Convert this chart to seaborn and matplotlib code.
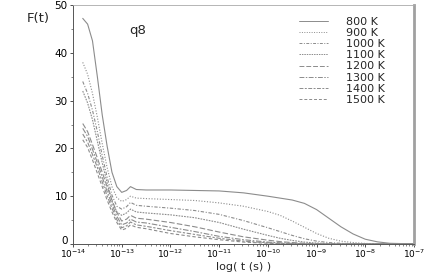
import numpy as np
import pandas as pd
import matplotlib
matplotlib.use("Agg")
import matplotlib.pyplot as plt
import matplotlib.transforms as mtransforms
import seaborn as sns
from matplotlib.ticker import LogLocator, NullFormatter, MultipleLocator

# ---- data ----
temperatures = ["800 K", "900 K", "1000 K", "1100 K", "1200 K", "1300 K", "1400 K", "1500 K"]
log_t = [-13.8, -13.7, -13.6, -13.5, -13.4, -13.3, -13.2, -13.1, -13.0,
         -12.9, -12.82, -12.7, -12.5, -12.0, -11.5, -11.0, -10.5, -10.0,
         -9.75, -9.5, -9.25, -9.0, -8.75, -8.5, -8.25, -8.0, -7.75, -7.5, -7.0]

F_800 = [47.2, 46.0, 42.5, 35.0, 27.0, 20.5, 15.0, 12.0, 10.8,
         11.2, 12.0, 11.4, 11.3, 11.3, 11.2, 11.1, 10.7, 10.0,
         9.6, 9.2, 8.5, 7.2, 5.4, 3.6, 2.1, 1.0, 0.45, 0.15, 0.02]
F_900 = [38.0, 35.5, 31.5, 26.5, 21.0, 16.0, 12.0, 9.7, 8.9,
         9.3, 10.0, 9.6, 9.5, 9.3, 9.1, 8.6, 7.9, 6.8,
         6.0, 4.8, 3.5, 2.2, 1.2, 0.6, 0.3, 0.12, 0.05, 0.02, 0.0]
F_1000 = [34.0, 31.5, 28.0, 23.5, 18.5, 14.0, 10.2, 7.9, 7.3,
          7.8, 8.7, 8.1, 7.9, 7.5, 7.0, 6.2, 4.9, 3.4,
          2.6, 1.8, 1.1, 0.6, 0.3, 0.15, 0.06, 0.02, 0.0, 0.0, 0.0]
F_1100 = [32.0, 29.5, 26.0, 21.5, 17.0, 12.8, 9.0, 6.7, 6.0,
          6.5, 7.3, 6.7, 6.5, 6.1, 5.5, 4.5, 3.1, 1.8,
          1.2, 0.75, 0.4, 0.2, 0.08, 0.03, 0.0, 0.0, 0.0, 0.0, 0.0]
F_1200 = [25.2, 23.5, 20.8, 18.0, 15.0, 12.0, 9.2, 6.6, 4.8,
          5.2, 6.0, 5.4, 5.2, 4.5, 3.6, 2.5, 1.5, 0.8,
          0.5, 0.3, 0.15, 0.05, 0.0, 0.0, 0.0, 0.0, 0.0, 0.0, 0.0]
F_1300 = [24.2, 22.5, 19.8, 17.0, 14.0, 11.0, 8.3, 5.8, 4.0,
          4.4, 5.2, 4.6, 4.4, 3.5, 2.6, 1.6, 0.9, 0.4,
          0.25, 0.12, 0.05, 0.0, 0.0, 0.0, 0.0, 0.0, 0.0, 0.0, 0.0]
F_1400 = [23.0, 21.3, 18.7, 16.0, 13.0, 10.1, 7.5, 5.1, 3.4,
          3.8, 4.6, 4.0, 3.7, 2.8, 2.0, 1.2, 0.6, 0.25,
          0.12, 0.05, 0.0, 0.0, 0.0, 0.0, 0.0, 0.0, 0.0, 0.0, 0.0]
F_1500 = [21.8, 20.2, 17.6, 14.8, 12.0, 9.2, 6.7, 4.5, 2.9,
          3.3, 4.0, 3.5, 3.2, 2.2, 1.5, 0.9, 0.4, 0.15,
          0.07, 0.02, 0.0, 0.0, 0.0, 0.0, 0.0, 0.0, 0.0, 0.0, 0.0]

series = [F_800, F_900, F_1000, F_1100, F_1200, F_1300, F_1400, F_1500]

x_ticks = [1e-14, 1e-13, 1e-12, 1e-11, 1e-10, 1e-9, 1e-8, 1e-7]
x_tick_labels = [r"$10^{-14}$", r"$10^{-13}$", r"$10^{-12}$", r"$10^{-11}$",
                 r"$10^{-10}$", r"$10^{-9}$", r"$10^{-8}$", r"$10^{-7}$"]
y_ticks = [0, 10, 20, 30, 40, 50]

# ---- build long table ----
rows = []
for T, vals in zip(temperatures, series):
    for lt, v in zip(log_t, vals):
        rows.append({"t": 10.0 ** lt, "F": v, "T": T})
df = pd.DataFrame(rows)

sns.set_theme(style="white")
plt.rcParams["font.family"] = ["DejaVu Sans"]
plt.rcParams["mathtext.default"] = "regular"

fig = plt.figure(figsize=(4.36, 2.73), dpi=100)
ax = fig.add_axes([73 / 436, 1 - 244 / 273, (414 - 73) / 436, (244 - 5) / 273])

dashes = {
    "800 K": "",
    "900 K": (1, 1.5),
    "1000 K": (3, 1.5, 1, 1.5),
    "1100 K": (1.5, 1),
    "1200 K": (5, 2),
    "1300 K": (5, 1.5, 1.5, 1.5),
    "1400 K": (4, 1.5, 2, 1.5),
    "1500 K": (3, 2),
}
gray = "#8c8c8c"
palette = {T: gray for T in temperatures}

sns.lineplot(data=df, x="t", y="F", hue="T", style="T", hue_order=temperatures,
             style_order=temperatures, dashes=dashes, palette=palette,
             linewidth=0.8, ax=ax, legend="full")

ax.set_xscale("log")
ax.set_xlim(1e-14, 1e-7)
ax.set_ylim(0, 50)
ax.set_xticks(x_ticks)
ax.set_xticklabels(x_tick_labels)
ax.xaxis.set_minor_locator(LogLocator(base=10, subs=np.arange(2, 10), numticks=20))
ax.xaxis.set_minor_formatter(NullFormatter())
ax.set_yticks(y_ticks)
ax.yaxis.set_minor_locator(MultipleLocator(5))

ax.tick_params(axis="x", which="major", labelsize=6.5, length=2, width=0.6,
               direction="out", colors="#333333", labelcolor="black", pad=0.3,
               bottom=True)
ax.tick_params(axis="y", which="major", labelsize=7.5, length=2.5, width=0.6,
               direction="out", colors="#333333", labelcolor="black", pad=1.5,
               left=True)
ax.tick_params(axis="both", which="minor", length=1.5, width=0.5, direction="out",
               colors="#555555", bottom=True, left=True)

for side in ["left", "bottom"]:
    ax.spines[side].set_color("#555555")
    ax.spines[side].set_linewidth(0.7)
ax.spines["top"].set_color("#aaaaaa")
ax.spines["top"].set_linewidth(0.6)
ax.spines["right"].set_color("#a0a0a0")
ax.spines["right"].set_linewidth(2.0)

ax.set_xlabel("log( t (s) )", fontsize=8)
ax.xaxis.set_label_coords(0.5, -0.118)
ax.xaxis.label.set_va("bottom")
ax.set_ylabel("F(t)", fontsize=9.5, rotation=0)
ax.yaxis.set_label_coords(-0.103, 0.945)
ax.yaxis.label.set_va("center")
ax.yaxis.label.set_ha("center")

ax.text(0.19, 0.895, "q8", transform=ax.transAxes, fontsize=9.5,
        ha="center", va="center")

handles, labels = ax.get_legend_handles_labels()
leg = ax.legend(handles, labels, loc="upper right", frameon=False, fontsize=8,
                handlelength=2.6, handletextpad=1.6, labelspacing=0.1,
                bbox_to_anchor=(0.915, 0.95), borderaxespad=0.0,
                borderpad=0.0)
for line in leg.get_lines():
    line.set_linewidth(0.7)

# nudge the "0" label up slightly so it clears the first x tick label
zero_lbl = ax.yaxis.get_major_ticks()[0].label1
zero_lbl.set_transform(zero_lbl.get_transform() +
                       mtransforms.ScaledTranslation(0, 3 / 72, fig.dpi_scale_trans))

fig.savefig("out.png", dpi=100)
